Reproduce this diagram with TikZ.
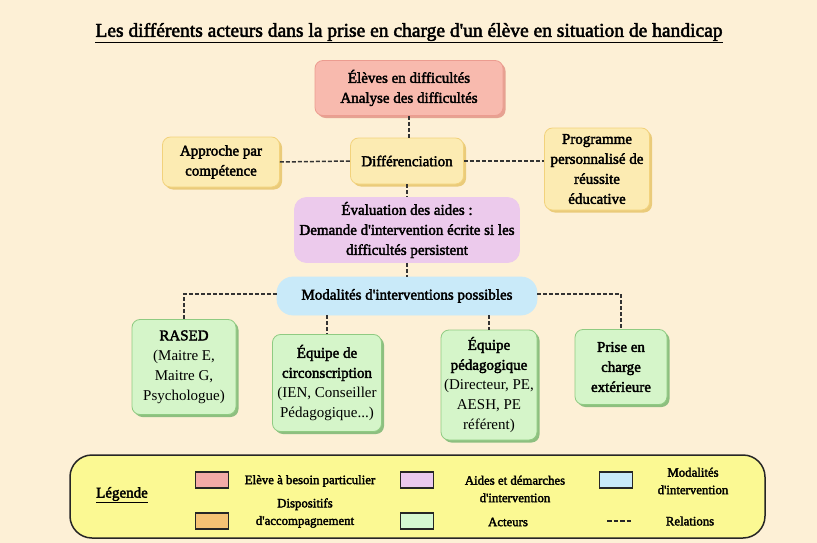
\documentclass[tikz,border=0pt]{standalone}
\usepackage{fontspec}
\setmainfont{Liberation Serif}
\newfontfamily\semib{Liberation Serif}[FakeBold=2.5]
\usetikzlibrary{shadows}
\definecolor{bg}{HTML}{FDF0D6}
\definecolor{redf}{HTML}{F8BAAE}
\definecolor{redd}{HTML}{EC9C90}
\definecolor{reds}{HTML}{E6A292}
\definecolor{yelf}{HTML}{FCEBB2}
\definecolor{yeld}{HTML}{F2D27C}
\definecolor{yels}{HTML}{EACB7A}
\definecolor{purf}{HTML}{ECCAEC}
\definecolor{bluf}{HTML}{C9EAF9}
\definecolor{grnf}{HTML}{D5F5C9}
\definecolor{grnd}{HTML}{8FCB82}
\definecolor{grns}{HTML}{8EBF80}
\definecolor{legf}{HTML}{FBF993}
\definecolor{lred}{HTML}{F4ABA7}
\definecolor{lora}{HTML}{F5C274}
\definecolor{lpur}{HTML}{EAC9EF}
\definecolor{lgrn}{HTML}{D5F8D1}
\definecolor{lblu}{HTML}{C9E9F9}
\newcommand\bxf{\semib\fontsize{15}{20}\selectfont}
\newcommand\bxr{\rmfamily\fontsize{15}{20}\selectfont}
\newcommand\lgf{\semib\fontsize{12.8}{17.5}\selectfont}
\tikzset{
  box/.style={line width=0.8pt, rounded corners=8pt, align=center, font=\bxf, inner sep=1pt},
  redbox/.style={box, draw=redd, fill=redf, drop shadow={shadow xshift=2.5pt, shadow yshift=-2.5pt, fill=reds, opacity=1}},
  yelbox/.style={box, draw=yeld, fill=yelf, drop shadow={shadow xshift=2.5pt, shadow yshift=-2.5pt, fill=yels, opacity=1}},
  purbox/.style={box, draw=purf, fill=purf, rounded corners=12pt},
  blubox/.style={box, draw=bluf, fill=bluf, rounded corners=16pt},
  grnbox/.style={box, draw=grnd, fill=grnf, drop shadow={shadow xshift=2.5pt, shadow yshift=-2.5pt, fill=grns, opacity=1}},
  rel/.style={draw=black!80, line width=1.5pt, dash pattern=on 4pt off 2pt},
  swatch/.style={draw=black!85, line width=1.2pt, minimum width=33pt, minimum height=16pt, inner sep=0pt},
  lgtext/.style={align=center, font=\lgf, inner sep=0pt}
}
\begin{document}
\begin{tikzpicture}[x=1pt,y=-1pt]
\useasboundingbox (0,0) rectangle (817,543);
\fill[bg] (0,0) rectangle (817,543);

\node[font=\semib\fontsize{19.5}{22}\selectfont] (title) at (409,33)
  {\underline{Les différents acteurs dans la prise en charge d'un élève en situation de handicap}};

\node[redbox, minimum width=188pt, minimum height=55pt] (eleves) at (409,88)
  {Élèves en difficultés\\Analyse des difficultés};
\node[yelbox, minimum width=117pt, minimum height=50pt] (appr) at (221,162)
  {Approche par\\compétence};
\node[yelbox, minimum width=113pt, minimum height=46pt] (diff) at (407,161)
  {Différenciation};
\node[yelbox, minimum width=105pt, minimum height=82pt] (prog) at (597,169)
  {Programme\\personnalisé de\\réussite\\éducative};
\node[purbox, minimum width=225pt, minimum height=65pt] (eval) at (407,230)
  {Évaluation des aides :\\Demande d'intervention écrite si les\\difficultés persistent};
\node[blubox, minimum width=260pt, minimum height=38pt] (moda) at (407,296)
  {Modalités d'interventions possibles};

\node[grnbox, minimum width=104pt, minimum height=95pt] (rased) at (184,367)
  {RASED\\\bxr (Maitre E,\\\bxr Maitre G,\\\bxr Psychologue)};
\node[grnbox, minimum width=109pt, minimum height=97pt] (circ) at (327,383)
  {Équipe de\\circonscription\\\bxr (IEN, Conseiller\\\bxr Pédagogique...)};
\node[grnbox, minimum width=96pt, minimum height=110pt] (peda) at (489,385)
  {Équipe\\pédagogique\\\bxr (Directeur, PE,\\\bxr AESH, PE\\\bxr référent)};
\node[grnbox, minimum width=92pt, minimum height=75pt] (prise) at (621,367)
  {Prise en\\charge\\extérieure};

\draw[rel] (eleves.south) -- (eleves.south |- diff.north);
\draw[rel] (appr.east) -- (diff.west);
\draw[rel] (diff.east) -- (diff.east -| prog.west);
\draw[rel] (diff.south) -- (diff.south |- eval.north);
\draw[rel] (eval.south) -- (eval.south |- moda.north);
\draw[rel] ([yshift=2pt]moda.west) -| (rased.north);
\draw[rel] ([yshift=2pt]moda.east) -| (prise.north);
\draw[rel] (moda.south -| circ.north) -- (circ.north);
\draw[rel] (moda.south -| peda.north) -- (peda.north);

% legend
\draw[draw=black!85, line width=1.5pt, fill=legf, rounded corners=22pt] (70,455) rectangle (765,538);
\node[font=\semib\fontsize{15}{17}\selectfont] (legt) at (122,495) {\underline{Légende}};
\node[swatch, fill=lred] (s1) at (212,480) {};
\node[swatch, fill=lora] (s2) at (212,521) {};
\node[swatch, fill=lpur] (s3) at (417,480) {};
\node[swatch, fill=lgrn] (s4) at (417,521) {};
\node[swatch, fill=lblu] (s5) at (616,480) {};
\node[lgtext] (t1) at (310,481) {Elève à besoin particulier};
\node[lgtext] (t2) at (305,513) {Dispositifs\\d'accompagnement};
\node[lgtext] (t3) at (515,489) {Aides et démarches\\d'intervention};
\node[lgtext] (t4) at (508,522) {Acteurs};
\node[lgtext] (t5) at (693,481) {Modalités\\d'intervention};
\node[lgtext] (t6) at (690,521) {Relations};
\coordinate (d1) at (607,521);
\coordinate (d2) at (631,521);
\draw[draw=black!85, line width=1.8pt, dash pattern=on 4.5pt off 2pt] (d1) -- (d2);
\end{tikzpicture}
\end{document}
